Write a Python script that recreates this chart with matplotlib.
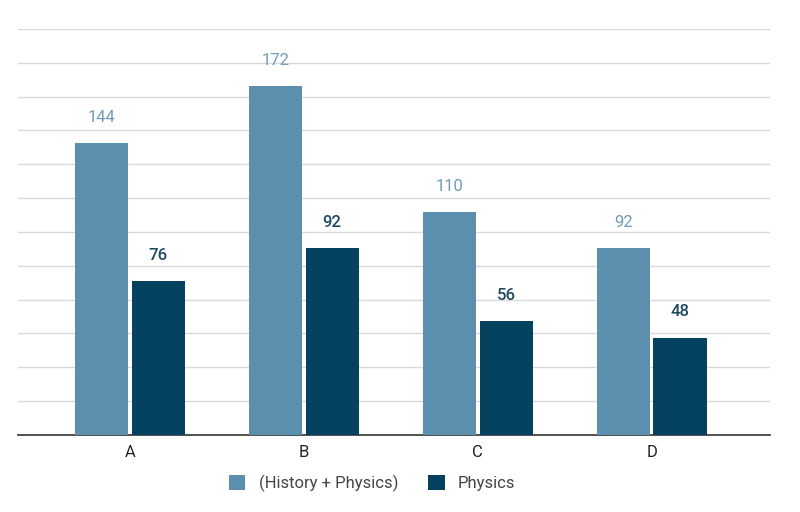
import matplotlib.pyplot as plt
import numpy as np

plt.rcParams['font.family'] = ['Roboto', 'DejaVu Sans']

categories = ['A', 'B', 'C', 'D']
history_physics = [144, 172, 110, 92]
physics = [76, 92, 56, 48]

light = '#5b8fad'
dark = '#04425f'

fig = plt.figure(figsize=(8, 5.12), dpi=100)
ax = fig.add_axes([0.0225, 0.1504, 0.94, 0.793])

x = np.arange(len(categories))
w = 0.305
gap = 0.01
b1 = ax.bar(x - w / 2 - gap, history_physics, width=w, color=light, label='(History + Physics)', zorder=3)
b2 = ax.bar(x + w / 2 + gap, physics, width=w, color=dark, label='Physics', zorder=3)

for bar, v in zip(b1, history_physics):
    ax.annotate(str(v), (bar.get_x() + bar.get_width() / 2, v), xytext=(0, 13),
                textcoords='offset points', ha='center', va='bottom',
                fontsize=12, color='#6f9cb8')
for bar, v in zip(b2, physics):
    ax.annotate(str(v), (bar.get_x() + bar.get_width() / 2, v), xytext=(0, 13),
                textcoords='offset points', ha='center', va='bottom',
                fontsize=12, color='#1f4a63', fontweight='medium')

ax.set_ylim(0, 200)
ax.set_xlim(-0.644, 3.68)
ax.set_yticks(np.linspace(0, 200, 13))
ax.set_yticklabels([])
ax.grid(axis='y', color='#d9d9d9', linewidth=1, zorder=0)
ax.tick_params(axis='y', length=0)
ax.tick_params(axis='x', length=0, labelsize=12, labelcolor='#222222', pad=7)
ax.set_xticks(x)
ax.set_xticklabels(categories)
for s in ['top', 'right', 'left']:
    ax.spines[s].set_visible(False)
ax.spines['bottom'].set_color('#333333')
ax.spines['bottom'].set_linewidth(1.2)

fig.legend(handles=[b1, b2], loc='lower center', bbox_to_anchor=(0.465, 0.01),
           ncol=2, frameon=False, fontsize=12, handlelength=1.0, handleheight=1.0,
           columnspacing=1.8, labelcolor='#444444')

fig.savefig('out.png', dpi=100)
